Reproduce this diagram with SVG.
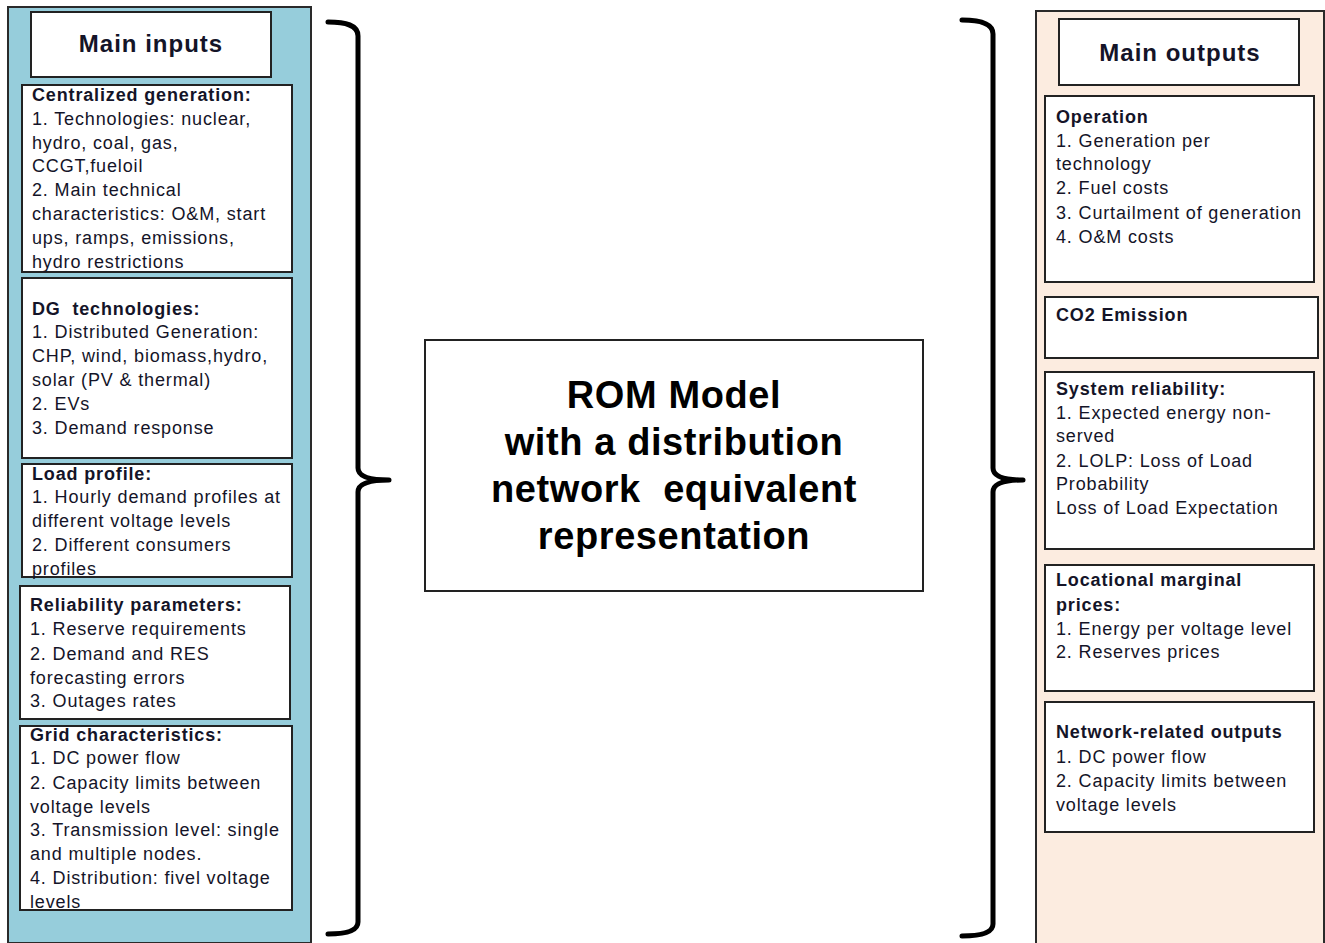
<svg xmlns="http://www.w3.org/2000/svg" width="1325" height="943" viewBox="0 0 1325 943">
<style>
.panel{stroke:#2a2a2a;stroke-width:2}
.box{fill:#fff;stroke:#222;stroke-width:2}
.t{font-family:"Liberation Sans",Arial,sans-serif;font-size:18px;fill:#141428;letter-spacing:0.85px}
.h{font-weight:bold}
.title{font-family:"Liberation Sans",Arial,sans-serif;font-size:24px;font-weight:bold;fill:#141428;text-anchor:middle;letter-spacing:1px}
.big{font-family:"Liberation Sans",Arial,sans-serif;font-size:38px;font-weight:bold;fill:#000;text-anchor:middle;letter-spacing:0.6px}
.brace{fill:none;stroke:#000;stroke-width:5;stroke-linecap:round;stroke-linejoin:round}
</style>
<rect width="1325" height="943" fill="#fff"/>
<g id="inputs-panel">
<rect class="panel" x="8" y="7" width="303" height="936" fill="#96CDDB"/>
</g>
<g id="main-inputs">
<rect class="box" x="31" y="12" width="240" height="65"/>
<text class="title" x="151" y="52">Main inputs</text>
</g>
<g id="centralized-generation">
<rect class="box" x="22" y="85" width="270" height="187"/>
<text class="t"><tspan class="h" x="32" y="101">Centralized generation:</tspan><tspan x="32" y="125">1. Technologies: nuclear,</tspan><tspan x="32" y="149">hydro, coal, gas,</tspan><tspan x="32" y="172">CCGT,fueloil</tspan><tspan x="32" y="196">2. Main technical</tspan><tspan x="32" y="220">characteristics: O&amp;M, start</tspan><tspan x="32" y="244">ups, ramps, emissions,</tspan><tspan x="32" y="268">hydro restrictions</tspan></text>
</g>
<g id="dg-technologies">
<rect class="box" x="22" y="278" width="270" height="180"/>
<text class="t"><tspan class="h" x="32" y="315" xml:space="preserve">DG  technologies:</tspan><tspan x="32" y="338">1. Distributed Generation:</tspan><tspan x="32" y="362">CHP, wind, biomass,hydro,</tspan><tspan x="32" y="386">solar (PV &amp; thermal)</tspan><tspan x="32" y="410">2. EVs</tspan><tspan x="32" y="434">3. Demand response</tspan></text>
</g>
<g id="load-profile">
<rect class="box" x="22" y="464" width="270" height="113"/>
<text class="t"><tspan class="h" x="32" y="480">Load profile:</tspan><tspan x="32" y="503">1. Hourly demand profiles at</tspan><tspan x="32" y="527">different voltage levels</tspan><tspan x="32" y="551">2. Different consumers</tspan><tspan x="32" y="575">profiles</tspan></text>
</g>
<g id="reliability-parameters">
<rect class="box" x="20" y="586" width="270" height="133"/>
<text class="t"><tspan class="h" x="30" y="611">Reliability parameters:</tspan><tspan x="30" y="635">1. Reserve requirements</tspan><tspan x="30" y="660">2. Demand and RES</tspan><tspan x="30" y="684">forecasting errors</tspan><tspan x="30" y="707">3. Outages rates</tspan></text>
</g>
<g id="grid-characteristics">
<rect class="box" x="20" y="726" width="272" height="184"/>
<text class="t"><tspan class="h" x="30" y="741">Grid characteristics:</tspan><tspan x="30" y="764">1. DC power flow</tspan><tspan x="30" y="789">2. Capacity limits between</tspan><tspan x="30" y="813">voltage levels</tspan><tspan x="30" y="836">3. Transmission level: single</tspan><tspan x="30" y="860">and multiple nodes.</tspan><tspan x="30" y="884">4. Distribution: fivel voltage</tspan><tspan x="30" y="908">levels</tspan></text>
</g>
<g id="rom-model">
<rect class="box" x="425" y="340" width="498" height="251"/>
<text class="big"><tspan x="674" y="408">ROM Model</tspan><tspan x="674" y="455">with a distribution</tspan><tspan x="674" y="502" xml:space="preserve">network  equivalent</tspan><tspan x="674" y="549">representation</tspan></text>
</g>
<g id="outputs-panel">
<rect class="panel" x="1036" y="11" width="288" height="934" fill="#FCECE0"/>
</g>
<g id="main-outputs">
<rect class="box" x="1059" y="19" width="240" height="66"/>
<text class="title" x="1180" y="61">Main outputs</text>
</g>
<g id="operation">
<rect class="box" x="1045" y="96" width="269" height="186"/>
<text class="t"><tspan class="h" x="1056" y="123">Operation</tspan><tspan x="1056" y="147">1. Generation per</tspan><tspan x="1056" y="170">technology</tspan><tspan x="1056" y="194">2. Fuel costs</tspan><tspan x="1056" y="219">3. Curtailment of generation</tspan><tspan x="1056" y="243">4. O&amp;M costs</tspan></text>
</g>
<g id="co2-emission">
<rect class="box" x="1045" y="297" width="273" height="61"/>
<text class="t"><tspan class="h" x="1056" y="321">CO2 Emission</tspan></text>
</g>
<g id="system-reliability">
<rect class="box" x="1045" y="372" width="269" height="177"/>
<text class="t"><tspan class="h" x="1056" y="395">System reliability:</tspan><tspan x="1056" y="419">1. Expected energy non-</tspan><tspan x="1056" y="442">served</tspan><tspan x="1056" y="467">2. LOLP: Loss of Load</tspan><tspan x="1056" y="490">Probability</tspan><tspan x="1056" y="514">Loss of Load Expectation</tspan></text>
</g>
<g id="locational-marginal-prices">
<rect class="box" x="1045" y="565" width="269" height="126"/>
<text class="t"><tspan class="h" x="1056" y="586">Locational marginal</tspan><tspan class="h" x="1056" y="611">prices:</tspan><tspan x="1056" y="635">1. Energy per voltage level</tspan><tspan x="1056" y="658">2. Reserves prices</tspan></text>
</g>
<g id="network-related-outputs">
<rect class="box" x="1045" y="702" width="269" height="130"/>
<text class="t"><tspan class="h" x="1056" y="738">Network-related outputs</tspan><tspan x="1056" y="763">1. DC power flow</tspan><tspan x="1056" y="787">2. Capacity limits between</tspan><tspan x="1056" y="811">voltage levels</tspan></text>
</g>
<g id="connectors">
<path class="brace" d="M328,22 C346,22 358,25 358,36 L358,468 C358,476 368,480 389,480 C368,480 358,484 358,492 L358,922 C358,931 346,934 328,934"/>
<path class="brace" d="M962,20 C980,20 993,23 993,34 L993,468 C993,476 1003,480 1023,480 C1003,480 993,484 993,492 L993,924 C993,933 980,936 962,936"/>
</g>
</svg>
